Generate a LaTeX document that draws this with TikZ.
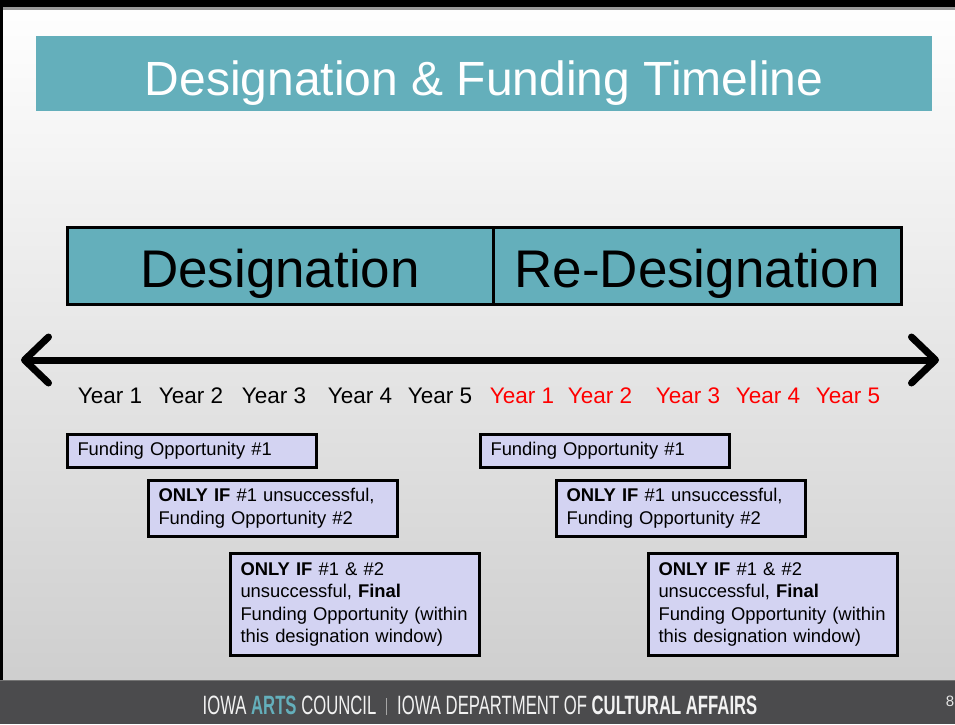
\documentclass[tikz,border=0pt]{standalone}
\usepackage{fontspec}
\setmainfont{Liberation Sans}
\newfontfamily\footfont[FakeStretch=0.63]{Liberation Sans}
\usepackage{tikz}
\usetikzlibrary{arrows.meta}
\definecolor{tealband}{HTML}{64AFBB}
\definecolor{lavbox}{HTML}{D3D3F2}
\definecolor{footgray}{HTML}{4B4B4D}

\begin{document}
\begin{tikzpicture}[x=1pt, y=-1pt,
    band/.style={draw=black, line width=3pt, fill=tealband, minimum height=77pt, inner sep=0pt, text height=43pt, text depth=0pt, font=\fontsize{53}{60}\selectfont},
    yearlbl/.style={inner sep=0pt, font=\fontsize{22.5}{26}\selectfont},
    fundbox/.style={draw=black, line width=3pt, fill=lavbox, anchor=north west, text width=229pt, inner xsep=10pt, align=left, font=\fontsize{18.4}{22.6}\selectfont}]
        \useasboundingbox (0,0) rectangle (955,724);
        % slide background and footer
        \shade[top color=white, bottom color=black!19] (0,0) rectangle (955,680);
        \fill[footgray] (0,680) rectangle (955,724);
        \draw[black!55, line width=1pt] (0,680.5) -- (955,680.5);
        \fill[black] (0,0) rectangle (955,7);
        \fill[black!40] (0,7) rectangle (955,9.5);
        \fill[black] (0,0) rectangle (3,680);
        \node[fill=tealband, minimum width=896pt, minimum height=75pt, inner sep=0pt, text height=43pt, text depth=0pt, text=white, font=\fontsize{48}{56}\selectfont] (title) at (484,73.5) {Designation \& Funding Timeline};
        % the two windows
        \node[band, minimum width=426pt] (des) at (280,265.5) {Designation};
        \node[band, minimum width=408pt] (redes) at (697,265.5) {Re-Designation};
        % time line
        \coordinate (tl) at (21,360);
        \coordinate (tr) at (939,360);
        \draw[line width=7pt, line cap=round, {Straight Barb[length=24pt, width=46pt, round]}-{Straight Barb[length=24pt, width=46pt, round]}] (tl) -- (tr);
        \foreach \x/\n in {110/1, 191/2, 274/3, 360/4, 440/5}
        \node[yearlbl] (y\n) at (\x,396) {Year \n};
        \foreach \x/\n in {522/1, 600/2, 688/3, 768/4, 848/5}
        \node[yearlbl, text=red] (r\n) at (\x,396) {Year \n};
        % funding chances
        \node[fundbox, minimum height=33pt] (fa) at (66,433) {Funding Opportunity \#1};
        \node[fundbox, minimum height=56pt] (fb) at (147,479) {\textbf{ONLY IF} \#1 unsuccessful,\\ Funding Opportunity \#2};
        \node[fundbox, minimum height=102pt] (fc) at (229,552) {\textbf{ONLY IF} \#1 \& \#2\\ unsuccessful, \textbf{Final}\\ Funding Opportunity (within\\ this designation window)};
        \node[fundbox, minimum height=33pt] (ga) at (479,433) {Funding Opportunity \#1};
        \node[fundbox, minimum height=56pt] (gb) at (555,479) {\textbf{ONLY IF} \#1 unsuccessful,\\ Funding Opportunity \#2};
        \node[fundbox, minimum height=102pt] (gc) at (647,552) {\textbf{ONLY IF} \#1 \& \#2\\ unsuccessful, \textbf{Final}\\ Funding Opportunity (within\\ this designation window)};
        % footer
        \node[anchor=base, text=black!5, inner sep=0pt, font=\footfont\fontsize{26.5}{30}\selectfont] (foot) at (480,714) {IOWA \textbf{\textcolor{tealband}{ARTS}} COUNCIL\hspace{10pt}\textcolor{black!35}{\rule[-1pt]{0.8pt}{17pt}}\hspace{10pt}IOWA DEPARTMENT OF \textbf{CULTURAL AFFAIRS}};
        \node[text=black!10, inner sep=0pt, font=\fontsize{15}{18}\selectfont] (pg) at (950,701) {8};
\end{tikzpicture}
\end{document}
